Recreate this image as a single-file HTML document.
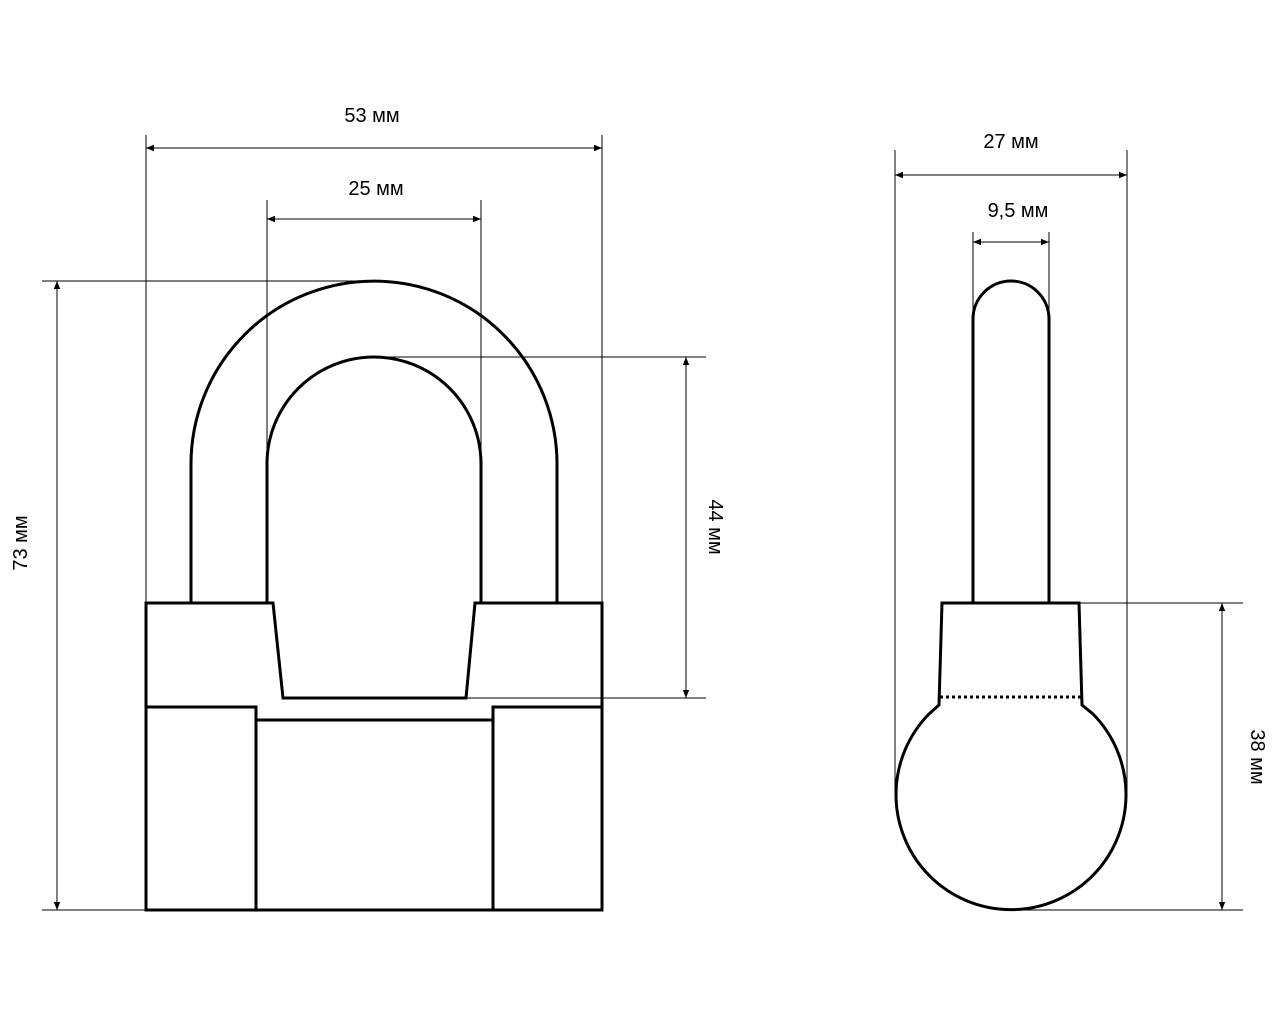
<!DOCTYPE html>
<html><head><meta charset="utf-8"><style>html,body{margin:0;padding:0;background:#fff}svg{display:block}</style></head>
<body>
<svg width="1280" height="1024" viewBox="0 0 1280 1024" xmlns="http://www.w3.org/2000/svg">
<defs>
<marker id="a" viewBox="0 0 10 10" refX="10" refY="5" markerWidth="8" markerHeight="8" orient="auto-start-reverse" markerUnits="userSpaceOnUse"><path d="M0,1 L10,5 L0,9 z" fill="#000"/></marker>
</defs>
<g stroke="#000" stroke-width="1" fill="none">
<line x1="146" y1="135" x2="146" y2="603"/>
<line x1="602" y1="135" x2="602" y2="603"/>
<line x1="267" y1="200" x2="267" y2="464"/>
<line x1="481" y1="200" x2="481" y2="464"/>
<line x1="42" y1="281" x2="374" y2="281"/>
<line x1="42" y1="910" x2="146" y2="910"/>
<line x1="374" y1="357" x2="706" y2="357"/>
<line x1="466" y1="698" x2="706" y2="698"/>
<line x1="895" y1="150" x2="895" y2="795"/>
<line x1="1127" y1="150" x2="1127" y2="795"/>
<line x1="973" y1="232" x2="973" y2="319"/>
<line x1="1049" y1="232" x2="1049" y2="319"/>
<line x1="1079" y1="603" x2="1243" y2="603"/>
<line x1="1011" y1="910" x2="1243" y2="910"/>
<line x1="146" y1="148" x2="602" y2="148" marker-start="url(#a)" marker-end="url(#a)"/>
<line x1="267" y1="219" x2="481" y2="219" marker-start="url(#a)" marker-end="url(#a)"/>
<line x1="57" y1="281" x2="57" y2="910" marker-start="url(#a)" marker-end="url(#a)"/>
<line x1="686" y1="357" x2="686" y2="698" marker-start="url(#a)" marker-end="url(#a)"/>
<line x1="895" y1="175" x2="1127" y2="175" marker-start="url(#a)" marker-end="url(#a)"/>
<line x1="973" y1="242" x2="1049" y2="242" marker-start="url(#a)" marker-end="url(#a)"/>
<line x1="1222" y1="603" x2="1222" y2="910" marker-start="url(#a)" marker-end="url(#a)"/>
</g>
<g stroke="#000" stroke-width="3" fill="none" stroke-linejoin="miter">
<path d="M191,603 L191,464 A183,183 0 0 1 557,464 L557,603"/>
<path d="M267,603 L267,464 A107,107 0 0 1 481,464 L481,603"/>
<path d="M146,603 L273,603 L283,698 L466,698 L475,603 L602,603 L602,910 L146,910 Z"/>
<path d="M146,707 L256,707 L256,910"/>
<path d="M602,707 L493,707 L493,910"/>
<line x1="256" y1="720" x2="493" y2="720"/>
<path d="M973,603 L973,319 A38,38 0 0 1 1049,319 L1049,603"/>
<path d="M942,603 L1079,603 L1082,705 L1093,714 A115,115 0 1 1 929,714 L939,705 Z"/>
<line x1="940" y1="697" x2="1081" y2="697" stroke-dasharray="3,3"/>
</g>
<g font-family="Liberation Sans, sans-serif" font-size="20" fill="#000" text-anchor="middle">
<text x="372" y="122">53 мм</text>
<text x="376" y="195">25 мм</text>
<text x="1011" y="148">27 мм</text>
<text x="1018" y="217">9,5 мм</text>
<text transform="translate(27,543) rotate(-90)">73 мм</text>
<text transform="translate(709,527) rotate(90)">44 мм</text>
<text transform="translate(1251,757) rotate(90)">38 мм</text>
</g>
</svg>
</body></html>
